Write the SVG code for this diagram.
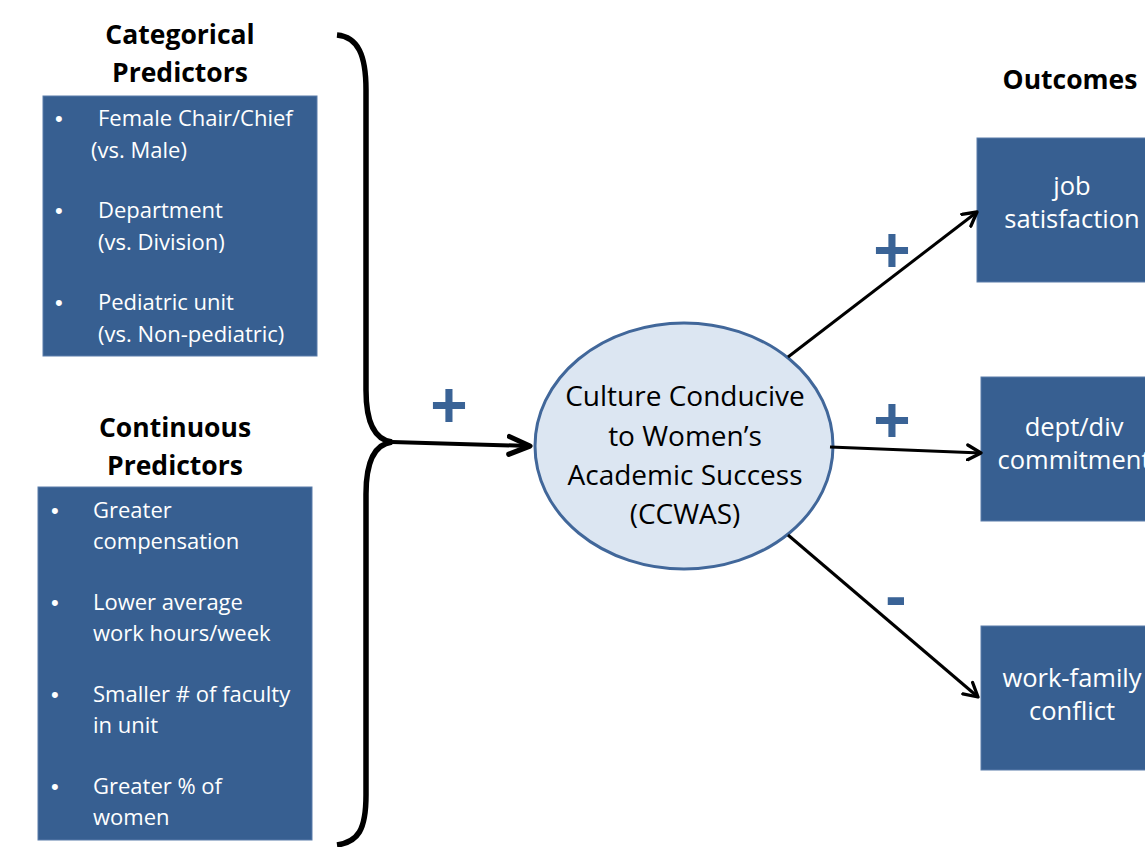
<svg xmlns="http://www.w3.org/2000/svg" width="1145" height="847" viewBox="0 0 1145 847">
<defs>
<style>
.hdr{font-family:"Open Sans","Liberation Sans",sans-serif;font-weight:bold;font-size:26.5px;fill:#000;text-anchor:middle}
.box{fill:#375F91;stroke:#5A7DAA;stroke-width:1}
.bt{font-family:"Open Sans","Liberation Sans",sans-serif;font-size:22px;fill:#fff}
.bul{font-family:"Liberation Sans",sans-serif;font-size:22px;fill:#fff}
.ot{font-family:"Open Sans","Liberation Sans",sans-serif;font-size:25.5px;fill:#fff;text-anchor:middle}
.ct{font-family:"Open Sans","Liberation Sans",sans-serif;font-size:28px;fill:#000;text-anchor:middle}
.sign{font-family:"Liberation Sans",sans-serif;font-weight:bold;font-size:64px;fill:#3A6396;text-anchor:middle}
.conn{stroke:#000;stroke-width:3;fill:none}
</style>
<marker id="ah" viewBox="0 0 12 12" refX="10" refY="6" markerWidth="6" markerHeight="6" orient="auto" markerUnits="strokeWidth">
<path d="M1,1 L10,6 L1,11" fill="none" stroke="#000" stroke-width="2.2" stroke-linecap="round" stroke-linejoin="round"/>
</marker>
<marker id="ahb" viewBox="0 0 12 12" refX="10" refY="6" markerWidth="7" markerHeight="7" orient="auto" markerUnits="strokeWidth">
<path d="M1,2.2 L10,6 L1,9.8" fill="none" stroke="#000" stroke-width="2.2" stroke-linecap="round" stroke-linejoin="round"/>
</marker>
</defs>
<rect width="1145" height="847" fill="#fff"/>

<g id="categorical">
<text class="hdr" x="180" y="44">Categorical</text>
<text class="hdr" x="180" y="82">Predictors</text>
<rect class="box" x="43" y="96" width="274" height="260"/>
<g class="bt">
<text class="bul" x="55" y="126">•</text><text x="98" y="126">Female Chair/Chief</text>
<text x="91" y="158">(vs. Male)</text>
<text class="bul" x="55" y="218">•</text><text x="98" y="218">Department</text>
<text x="98" y="250">(vs. Division)</text>
<text class="bul" x="55" y="310">•</text><text x="98" y="310">Pediatric unit</text>
<text x="98" y="342">(vs. Non-pediatric)</text>
</g>
</g>

<g id="continuous">
<text class="hdr" x="175" y="437">Continuous</text>
<text class="hdr" x="175" y="475">Predictors</text>
<rect class="box" x="38" y="487" width="274" height="353"/>
<g class="bt">
<text class="bul" x="51" y="518">•</text><text x="93" y="518">Greater</text>
<text x="93" y="549">compensation</text>
<text class="bul" x="51" y="610">•</text><text x="93" y="610">Lower average</text>
<text x="93" y="641">work hours/week</text>
<text class="bul" x="51" y="702">•</text><text x="93" y="702">Smaller # of faculty</text>
<text x="93" y="733">in unit</text>
<text class="bul" x="51" y="794">•</text><text x="93" y="794">Greater % of</text>
<text x="93" y="825">women</text>
</g>
</g>

<g id="ccwas">
<ellipse cx="684" cy="446" rx="149" ry="123" fill="#DCE6F2" stroke="#41679A" stroke-width="3"/>
<text class="ct" x="685" y="406">Culture Conducive</text>
<text class="ct" x="685" y="446">to Women’s</text>
<text class="ct" x="685" y="485">Academic Success</text>
<text class="ct" x="685" y="524">(CCWAS)</text>
</g>

<g id="outcomes">
<text class="hdr" x="1070" y="89">Outcomes</text>
</g>
<g id="job">
<rect class="box" x="977" y="138" width="175" height="144"/>
<text class="ot" x="1072" y="195">job</text>
<text class="ot" x="1072" y="228">satisfaction</text>
</g>
<g id="commitment">
<rect class="box" x="981" y="377" width="175" height="144"/>
<text class="ot" x="1074" y="436">dept/div</text>
<text class="ot" x="1074" y="469">commitment</text>
</g>
<g id="conflict">
<rect class="box" x="981" y="626" width="175" height="144"/>
<text class="ot" x="1072" y="687">work-family</text>
<text class="ot" x="1072" y="720">conflict</text>
</g>

<g id="connectors">
<path d="M337,35 C358,37 366,55 366,90 L366,390 C366,425 376,440 392,442 C376,444 366,459 366,494 L366,795 C366,830 358,842 337,845" fill="none" stroke="#000" stroke-width="5.5"/>
<line x1="392" y1="442" x2="530" y2="446" stroke="#000" stroke-width="4" marker-end="url(#ahb)"/>
<line class="conn" x1="788" y1="357" x2="977" y2="212" marker-end="url(#ah)"/>
<line class="conn" x1="830" y1="447" x2="981" y2="453" marker-end="url(#ah)"/>
<line class="conn" x1="788" y1="535" x2="978" y2="697" marker-end="url(#ah)"/>
</g>

<g id="signs">
<text class="sign" x="449" y="427">+</text>
<text class="sign" x="892" y="272">+</text>
<text class="sign" x="892" y="442">+</text>
<text class="sign" x="896" y="618">-</text>
</g>
</svg>
